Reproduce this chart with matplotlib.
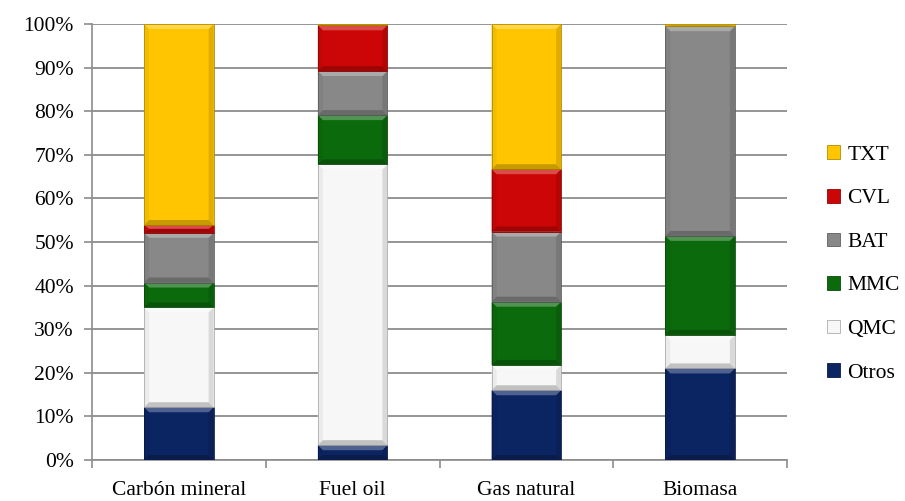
import numpy as np
import matplotlib.pyplot as plt
from matplotlib.patches import Patch, Polygon
from matplotlib.colors import to_rgb

# categories and shares (%)
categories = ['Carbón mineral', 'Fuel oil', 'Gas natural', 'Biomasa']
otros = [12.1, 3.4, 16.0, 21.0]
qmc = [22.9, 64.4, 5.8, 7.7]
mmc = [5.7, 11.3, 14.5, 22.7]
bat = [11.4, 10.1, 16.1, 48.1]
cvl = [1.8, 10.5, 14.3, 0.0]
txt = [46.1, 0.3, 33.3, 0.5]

series = [('Otros', otros, '#0b2462'),
          ('QMC', qmc, '#f7f7f7'),
          ('MMC', mmc, '#0a6a0c'),
          ('BAT', bat, '#888888'),
          ('CVL', cvl, '#cc0606'),
          ('TXT', txt, '#ffc600')]


def mix(c, other, t):
    c = np.array(to_rgb(c))
    return tuple(c * (1 - t) + np.array(other) * t)


def bevel(ax, rect, col, px_x, px_y, size=5):
    # fake Excel-style bevel on one bar segment
    x0, y0 = rect.get_x(), rect.get_y()
    w, h = rect.get_width(), rect.get_height()
    if h <= 0:
        return
    bx = size * px_x
    by = min(size * px_y, h / 2)
    x1, y1 = x0 + w, y0 + h
    top = [(x0, y1), (x1, y1), (x1 - bx, y1 - by), (x0 + bx, y1 - by)]
    bot = [(x0, y0), (x1, y0), (x1 - bx, y0 + by), (x0 + bx, y0 + by)]
    left = [(x0, y0), (x0, y1), (x0 + bx, y1 - by), (x0 + bx, y0 + by)]
    right = [(x1, y0), (x1, y1), (x1 - bx, y1 - by), (x1 - bx, y0 + by)]
    for pts, c in [(left, mix(col, (0, 0, 0), 0.05)), (right, mix(col, (0, 0, 0), 0.12)),
                   (top, mix(col, (1, 1, 1), 0.28)), (bot, mix(col, (0, 0, 0), 0.22))]:
        ax.add_patch(Polygon(pts, closed=True, facecolor=c, edgecolor='none', zorder=4))
    ax.add_patch(plt.Rectangle((x0, y0), w, h, facecolor='none',
                               edgecolor=mix(col, (0, 0, 0), 0.3), linewidth=0.6, zorder=5))


plt.rcParams['font.family'] = ['Liberation Serif', 'DejaVu Serif']
fig = plt.figure(figsize=(9.05, 5.01), dpi=100)
ax = fig.add_axes([92 / 905, 41 / 501, 695 / 905, 436 / 501])
ax.set_xlim(-0.5, len(categories) - 0.5)
ax.set_ylim(0, 100)
px_x = len(categories) / 695
px_y = 100 / 436

x = np.arange(len(categories))
bottom = np.zeros(len(categories))
handles = []
for name, vals, col in series:
    vals = np.array(vals)
    bars = ax.bar(x, vals, width=0.4, bottom=bottom, color=col, linewidth=0, zorder=3)
    for r in bars:
        bevel(ax, r, col, px_x, px_y)
    bottom += vals
    handles.append(Patch(facecolor=col, edgecolor=mix(col, (0, 0, 0), 0.3),
                         linewidth=0.6, label=name))

ax.set_yticks(np.arange(0, 101, 10))
ax.set_yticklabels([f'{v}%' for v in range(0, 101, 10)], fontsize=15.5)
ax.yaxis.grid(True, color='#8c8c8c', linewidth=1.3, zorder=0)
ax.set_xticks(x)
ax.set_xticklabels(categories, fontsize=15.5)
ax.set_xticks(np.arange(-0.5, len(categories)), minor=True)
ax.tick_params(axis='x', which='major', length=0, pad=15)
ax.tick_params(axis='x', which='minor', length=6, color='#8c8c8c', width=1.2)
ax.tick_params(axis='y', length=6, color='#8c8c8c', width=1.2, pad=7)
for s in ['top', 'right']:
    ax.spines[s].set_visible(False)
for s in ['left', 'bottom']:
    ax.spines[s].set_color('#8c8c8c')
    ax.spines[s].set_linewidth(1.2)

fig.legend(handles=handles[::-1], loc='center left',
           bbox_to_anchor=(816 / 905, (501 - 264) / 501),
           frameon=False, fontsize=15.5, handlelength=0.6, handleheight=0.6,
           handletextpad=0.35, labelspacing=1.12, borderpad=0)

plt.savefig('out.png', dpi=100)
